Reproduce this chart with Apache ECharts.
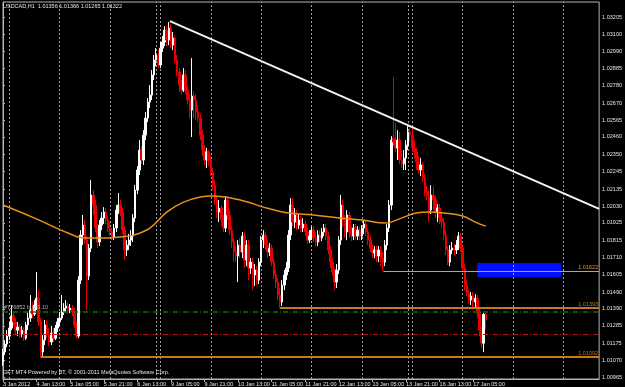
<!DOCTYPE html>
<html>
<head>
<meta charset="utf-8">
<title>USDCAD,H1</title>
<script src="https://cdn.jsdelivr.net/npm/echarts@6.0.0/dist/echarts.min.js"></script>
<style>
html, body { margin: 0; padding: 0; background: #000; }
#chart { width: 625px; height: 387px; }
</style>
</head>
<body>
<div id="chart"></div>
<script>
// USDCAD H1, one bar per hour from 3 Jan 21:00
var barOpen = [
1.01060,1.01122,1.01171,1.01221,1.01271,1.01346,1.01309,1.01258,1.01277,1.01233,
1.01258,1.01208,1.01290,1.01333,1.01383,1.01358,1.01414,1.01457,1.01309,1.01122,
1.01196,1.01290,1.01227,1.01184,1.01240,1.01208,1.01271,1.01309,1.01333,1.01371,
1.01395,1.01408,1.01383,1.01395,1.01371,1.01290,1.01221,1.01569,1.01849,1.01911,
1.01818,1.01594,1.01768,1.02098,1.02036,1.01893,1.01806,1.01911,1.01955,1.01992,
1.01943,1.01893,1.01868,1.01837,1.01893,1.02005,1.02036,1.01992,1.01880,1.01756,
1.01787,1.01818,1.01843,1.01955,1.02129,1.02254,1.02378,1.02316,1.02471,1.02577,
1.02677,1.02720,1.02845,1.02938,1.02969,1.02907,1.03012,1.03050,1.03124,1.03062,
1.03137,1.03031,1.03075,1.02938,1.02863,1.02782,1.02751,1.02845,1.02751,1.02689,
1.02627,1.02714,1.02689,1.02614,1.02577,1.02471,1.02378,1.02316,1.02366,1.02316,
1.02241,1.02160,1.02067,1.01992,1.02017,1.01943,1.01893,1.02067,1.01974,1.01880,
1.01806,1.01744,1.01719,1.01787,1.01744,1.01843,1.01694,1.01787,1.01644,1.01681,
1.01601,1.01632,1.01569,1.01681,1.01818,1.01849,1.01787,1.01744,1.01768,1.01681,
1.01601,1.01557,1.01476,1.01433,1.01538,1.01601,1.01644,1.01849,1.02036,1.01930,
1.01974,1.01911,1.01943,1.01893,1.01918,1.01868,1.01818,1.01843,1.01880,1.01831,
1.01806,1.01849,1.01831,1.01868,1.01893,1.01843,1.01756,1.01681,1.01619,1.01557,
1.01632,1.01818,1.02036,1.01943,1.01868,1.01974,1.01868,1.01843,1.01893,1.01843,
1.01880,1.01843,1.01893,1.01918,1.01868,1.01818,1.01768,1.01737,1.01756,1.01719,
1.01756,1.01706,1.01681,1.01787,1.01893,1.02036,1.02453,1.02428,1.02391,1.02440,
1.02316,1.02291,1.02328,1.02409,1.02490,1.02471,1.02391,1.02366,1.02303,1.02254,
1.02285,1.02204,1.02117,1.02092,1.02005,1.02098,1.02067,1.01992,1.02017,1.01955,
1.01930,1.01849,1.01756,1.01681,1.01756,1.01768,1.01756,1.01787,1.01843,1.01768,
1.01644,1.01538,1.01489,1.01445,1.01470,1.01433,1.01457,1.01371,1.01258,1.01177,
1.01356
];
var barClose = [
1.01122,1.01171,1.01221,1.01271,1.01346,1.01309,1.01258,1.01277,1.01233,1.01258,
1.01208,1.01290,1.01333,1.01383,1.01358,1.01414,1.01457,1.01309,1.01122,1.01196,
1.01290,1.01227,1.01184,1.01240,1.01208,1.01271,1.01309,1.01333,1.01371,1.01395,
1.01408,1.01383,1.01395,1.01371,1.01290,1.01221,1.01569,1.01849,1.01911,1.01818,
1.01594,1.01768,1.02098,1.02036,1.01893,1.01806,1.01911,1.01955,1.01992,1.01943,
1.01893,1.01868,1.01837,1.01893,1.02005,1.02036,1.01992,1.01880,1.01756,1.01787,
1.01818,1.01843,1.01955,1.02129,1.02254,1.02378,1.02316,1.02471,1.02577,1.02677,
1.02720,1.02845,1.02938,1.02969,1.02907,1.03012,1.03050,1.03124,1.03062,1.03137,
1.03031,1.03075,1.02938,1.02863,1.02782,1.02751,1.02845,1.02751,1.02689,1.02627,
1.02714,1.02689,1.02614,1.02577,1.02471,1.02378,1.02316,1.02366,1.02316,1.02241,
1.02160,1.02067,1.01992,1.02017,1.01943,1.01893,1.02067,1.01974,1.01880,1.01806,
1.01744,1.01719,1.01787,1.01744,1.01843,1.01694,1.01787,1.01644,1.01681,1.01601,
1.01632,1.01569,1.01681,1.01818,1.01849,1.01787,1.01744,1.01768,1.01681,1.01601,
1.01557,1.01476,1.01433,1.01538,1.01601,1.01644,1.01849,1.02036,1.01930,1.01974,
1.01911,1.01943,1.01893,1.01918,1.01868,1.01818,1.01843,1.01880,1.01831,1.01806,
1.01849,1.01831,1.01868,1.01893,1.01843,1.01756,1.01681,1.01619,1.01557,1.01632,
1.01818,1.02036,1.01943,1.01868,1.01974,1.01868,1.01843,1.01893,1.01843,1.01880,
1.01843,1.01893,1.01918,1.01868,1.01818,1.01768,1.01737,1.01756,1.01719,1.01756,
1.01706,1.01681,1.01787,1.01893,1.02036,1.02440,1.02428,1.02391,1.02440,1.02316,
1.02291,1.02328,1.02409,1.02490,1.02471,1.02391,1.02366,1.02303,1.02254,1.02285,
1.02204,1.02117,1.02092,1.02005,1.02098,1.02067,1.01992,1.02017,1.01955,1.01930,
1.01849,1.01756,1.01681,1.01756,1.01768,1.01756,1.01787,1.01843,1.01768,1.01644,
1.01538,1.01489,1.01445,1.01470,1.01433,1.01457,1.01371,1.01258,1.01177,1.01356,
1.01322
];
var barLow = [
1.01035,1.01103,1.01152,1.01196,1.01258,1.01284,1.01233,1.01221,1.01208,1.01214,
1.01190,1.01196,1.01258,1.01309,1.01333,1.01346,1.01383,1.01284,1.01090,1.01090,
1.01165,1.01208,1.01159,1.01165,1.01184,1.01196,1.01246,1.01284,1.01321,1.01352,
1.01371,1.01358,1.01364,1.01346,1.01271,1.01202,1.01208,1.01545,1.01787,1.01793,
1.01383,1.01569,1.01744,1.01974,1.01868,1.01768,1.01781,1.01880,1.01918,1.01918,
1.01868,1.01843,1.01818,1.01818,1.01868,1.01980,1.01968,1.01856,1.01694,1.01719,
1.01756,1.01781,1.01806,1.01930,1.02104,1.02223,1.02291,1.02285,1.02440,1.02552,
1.02639,1.02689,1.02813,1.02900,1.02888,1.02888,1.02988,1.03025,1.03025,1.03031,
1.03012,1.03000,1.02919,1.02838,1.02739,1.02720,1.02739,1.02726,1.02664,1.02577,
1.02459,1.02577,1.02565,1.02552,1.02440,1.02341,1.02285,1.02266,1.02278,1.02216,
1.02129,1.02036,1.01955,1.01930,1.01905,1.01868,1.01868,1.01943,1.01849,1.01768,
1.01681,1.01681,1.01557,1.01706,1.01706,1.01644,1.01656,1.01569,1.01607,1.01507,
1.01532,1.01538,1.01545,1.01656,1.01768,1.01756,1.01706,1.01719,1.01656,1.01576,
1.01520,1.01445,1.01395,1.01408,1.01507,1.01569,1.01619,1.01818,1.01905,1.01893,
1.01880,1.01887,1.01868,1.01868,1.01843,1.01793,1.01800,1.01818,1.01806,1.01775,
1.01781,1.01806,1.01812,1.01843,1.01818,1.01731,1.01644,1.01594,1.01507,1.01520,
1.01607,1.01787,1.01905,1.01831,1.01818,1.01831,1.01812,1.01818,1.01818,1.01818,
1.01818,1.01818,1.01856,1.01843,1.01787,1.01744,1.01706,1.01706,1.01681,1.01681,
1.01656,1.01625,1.01656,1.01756,1.01868,1.02005,1.02403,1.02366,1.02316,1.02291,
1.02266,1.02254,1.02254,1.02378,1.02428,1.02366,1.02328,1.02254,1.02229,1.02216,
1.02179,1.02092,1.02067,1.01930,1.01980,1.02005,1.01955,1.01930,1.01918,1.01893,
1.01818,1.01725,1.01663,1.01656,1.01731,1.01719,1.01731,1.01756,1.01744,1.01619,
1.01507,1.01470,1.01420,1.01414,1.01401,1.01395,1.01333,1.01221,1.01146,1.01121,
1.01265
];
var barHigh = [
1.01140,1.01196,1.01258,1.01309,1.01414,1.01371,1.01333,1.01309,1.01296,1.01284,
1.01277,1.01309,1.01371,1.01476,1.01433,1.01445,1.01620,1.01507,1.01333,1.01227,
1.01321,1.01321,1.01271,1.01284,1.01271,1.01290,1.01333,1.01371,1.01476,1.01426,
1.01445,1.01433,1.01420,1.01414,1.01395,1.01309,1.01594,1.01880,1.01974,1.01943,
1.01843,1.01793,1.02191,1.02129,1.02067,1.01918,1.01943,1.01992,1.02023,1.02017,
1.01968,1.01930,1.01893,1.01918,1.02036,1.02111,1.02067,1.02017,1.01905,1.01818,
1.01856,1.01880,1.01980,1.02160,1.02278,1.02440,1.02403,1.02502,1.02614,1.02701,
1.02782,1.02876,1.02969,1.03012,1.03000,1.03050,1.03087,1.03149,1.03149,1.03174,
1.03162,1.03112,1.03093,1.02969,1.02888,1.02813,1.02888,1.02876,1.02776,1.02726,
1.02950,1.02739,1.02726,1.02658,1.02602,1.02502,1.02409,1.02391,1.02378,1.02347,
1.02266,1.02191,1.02092,1.02067,1.02036,1.01974,1.02092,1.02092,1.02005,1.01905,
1.01831,1.01781,1.01818,1.01831,1.01868,1.01868,1.01818,1.01818,1.01706,1.01706,
1.01669,1.01656,1.01706,1.01843,1.01880,1.01868,1.01818,1.01800,1.01793,1.01706,
1.01632,1.01582,1.01520,1.01569,1.01632,1.01681,1.01880,1.02079,1.02079,1.02017,
1.02005,1.01980,1.01968,1.01955,1.01943,1.01893,1.01880,1.01905,1.01905,1.01868,
1.01880,1.01880,1.01893,1.01918,1.01918,1.01868,1.01781,1.01706,1.01644,1.01669,
1.01843,1.02098,1.02067,1.01974,1.02005,1.01992,1.01905,1.01918,1.01918,1.01905,
1.01899,1.01911,1.01943,1.01943,1.01893,1.01843,1.01793,1.01781,1.01781,1.01781,
1.01781,1.01744,1.01818,1.01918,1.02067,1.02465,1.02832,1.02546,1.02502,1.02490,
1.02378,1.02378,1.02440,1.02527,1.02533,1.02521,1.02440,1.02391,1.02341,1.02328,
1.02303,1.02229,1.02154,1.02129,1.02160,1.02154,1.02092,1.02042,1.02042,1.01992,
1.01955,1.01880,1.01781,1.01787,1.01806,1.01793,1.01818,1.01868,1.01862,1.01793,
1.01669,1.01569,1.01507,1.01495,1.01495,1.01482,1.01476,1.01395,1.01283,1.01364,
1.01366
];

// orange moving average, [bar, value]
var maPoints = [
[0,1.02036],[15,1.01955],[31,1.01862],[39,1.01831],[47,1.01831],[55,1.01837],
[62,1.01849],[70,1.01893],[78,1.01992],[86,1.02054],[94,1.02086],[100,1.02092],
[109,1.02079],[117,1.02054],[124,1.02023],[136,1.01986],[148,1.01974],[160,1.01955],
[171,1.01943],[182,1.01924],[185,1.01930],[191,1.01961],[197,1.01986],[203,1.01992],
[210,1.01986],[219,1.01968],[225,1.01930],[230,1.01905]
];
// white trend line, [bar, price]
var trendLine = [[79.5,1.03180],[284,1.02012]];

// horizontal levels drawn on the chart
var levelPrice = [1.01625, 1.01395, 1.01090];
var levelStart = [181.2, 132, 18];
var levelText = ['1.01622', '1.01393', '1.01092'];
var orderPrice = 1.01374, orderText = '#726852 buy 0.10';
var stopPrice = 1.01234;
var boxBars = [225.9, 265.9];
var boxPrices = [1.01675, 1.01588];

var priceTicks = [1.03205,1.03100,1.02990,1.02885,1.02780,1.02670,1.02565,1.02460,1.02350,
  1.02245,1.02135,1.02030,1.01925,1.01815,1.01710,1.01605,1.01490,1.01390,1.01285,
  1.01175,1.01070,1.00965];
var timeLabels = ['3 Jan 2012','4 Jan 13:00','5 Jan 05:00','5 Jan 21:00','6 Jan 13:00',
  '9 Jan 05:00','9 Jan 21:00','10 Jan 13:00','11 Jan 05:00','11 Jan 21:00','12 Jan 13:00',
  '13 Jan 05:00','13 Jan 21:00','16 Jan 13:00','17 Jan 05:00'];
var labelStep = 16;
var dayLines = [3,27,51,73,75,99,123,147,171,193,195,219,243,267];
var slotCount = 285; // bars plus the empty shift on the right

var fontName = 'Liberation Sans';
var fg = '#e6e6e6';

var slots = [];
for (var i = 0; i < slotCount; i++) slots.push(String(i));

var candles = barOpen.map(function (o, i) {
  return [o, barClose[i], barLow[i], barHigh[i]];
});

var isLabelSlot = function (i) {
  return i % labelStep === 0 && i / labelStep < timeLabels.length;
};

var last = barOpen.length - 1;
var header = 'USDCAD,H1  ' + barOpen[last].toFixed(5) + ' ' + barHigh[last].toFixed(5) + ' ' +
  barLow[last].toFixed(5) + ' ' + barClose[last].toFixed(5);

var lines = [];
for (var k = 0; k < levelPrice.length; k++) {
  var thin = k === 0;
  var col = thin ? '#f0982a' : '#c47a1c';
  lines.push([
    { coord: [levelStart[k], levelPrice[k]],
      lineStyle: { color: col, width: thin ? 1 : 2, type: 'solid' },
      label: { formatter: levelText[k], color: col } },
    { coord: [slotCount - 1, levelPrice[k]] }
  ]);
}
lines.push([
  { coord: [0, orderPrice], lineStyle: { color: '#0b700b', width: 1.5, type: [5, 2, 1, 2] },
    label: { formatter: orderText, position: 'insideStartTop', color: '#b0b0b0' } },
  { coord: [slotCount - 1, orderPrice] }
]);
lines.push([
  { coord: [0, stopPrice], lineStyle: { color: '#c41010', width: 1, type: [5, 2, 1, 2] },
    label: { show: false } },
  { coord: [slotCount - 1, stopPrice] }
]);

// dotted day separators
var dayMarks = dayLines.map(function (d) { return { xAxis: d }; });

var chart = echarts.init(document.getElementById('chart'));
chart.setOption({
  animation: false,
  backgroundColor: '#000',
  textStyle: { fontFamily: fontName },
  title: [
    { text: header, left: 3, top: 3, padding: 0,
      textStyle: { color: fg, fontSize: 5.5, fontWeight: 'normal', fontFamily: fontName } },
    { text: 'GFT MT4 Powered by BT, \u00a9 2001-2011 MetaQuotes Software Corp.', left: 3, top: 369, padding: 0,
      textStyle: { color: fg, fontSize: 5.5, fontWeight: 'normal', fontFamily: fontName } }
  ],
  grid: {
    left: 1, right: 20.5, top: 2, bottom: 8,
    show: true, borderColor: '#b4b4b4', borderWidth: 1, backgroundColor: '#000'
  },
  xAxis: [
    {
      type: 'category', data: slots, boundaryGap: false,
      axisLine: { show: true, lineStyle: { color: '#b4b4b4' } },
      axisTick: { show: true, interval: isLabelSlot, length: 3, lineStyle: { color: '#b4b4b4' } },
      axisLabel: {
        interval: isLabelSlot, align: 'left', margin: 2, color: fg, fontSize: 5.5, fontFamily: fontName,
        formatter: function (v, i) { return timeLabels[i / labelStep] || ''; }
      },
      splitLine: { show: false }
    },
    { type: 'value', min: 0, max: slotCount - 1, show: false }
  ],
  yAxis: {
    type: 'value', position: 'right', min: 1.00954, max: 1.03299, scale: true,
    axisLine: { show: true, lineStyle: { color: '#b4b4b4' } },
    axisTick: { show: true, length: 2, customValues: priceTicks, lineStyle: { color: '#b4b4b4' } },
    axisLabel: {
      customValues: priceTicks, margin: 3, color: fg, fontSize: 5.5, fontFamily: fontName,
      formatter: function (v) { return v.toFixed(5); }
    },
    splitLine: { show: false }
  },
  series: [
    {
      type: 'line', xAxisIndex: 1, data: trendLine, symbol: 'none', z: 4, silent: true,
      lineStyle: { color: '#f2f2f2', width: 2 },
      markArea: {
        silent: true,
        itemStyle: { color: '#0010ff', opacity: 1 },
        data: [[{ coord: [boxBars[0], boxPrices[0]] }, { coord: [boxBars[1], boxPrices[1]] }]]
      },
      markLine: {
        silent: true, symbol: ['none', 'none'],
        label: { position: 'insideEndTop', distance: 1, fontSize: 5.5, fontFamily: fontName },
        data: lines
      }
    },
    {
      type: 'candlestick', data: candles, barWidth: 2, z: 3,
      itemStyle: {
        color: '#ffffff', color0: '#e60000',
        borderColor: '#ffffff', borderColor0: '#e60000', borderWidth: 1
      },
      markLine: {
        silent: true, symbol: ['none', 'none'],
        lineStyle: { opacity: 0 },
        label: {
          position: 'end', distance: 1, formatter: barClose[last].toFixed(5),
          color: '#000', backgroundColor: '#ffffff', padding: [0, 1], fontSize: 5.5, fontFamily: fontName
        },
        data: [{ yAxis: barClose[last] }]
      }
    },
    {
      type: 'line', xAxisIndex: 1, data: maPoints, symbol: 'none', smooth: 0.4, z: 4, silent: true,
      lineStyle: { color: '#e8901c', width: 1.5 },
      markLine: {
        silent: true, symbol: ['none', 'none'], z: 1,
        lineStyle: { color: '#a0a0a0', type: [2, 2], width: 1 },
        label: { show: false },
        data: dayMarks
      }
    }
  ]
});
</script>
</body>
</html>
